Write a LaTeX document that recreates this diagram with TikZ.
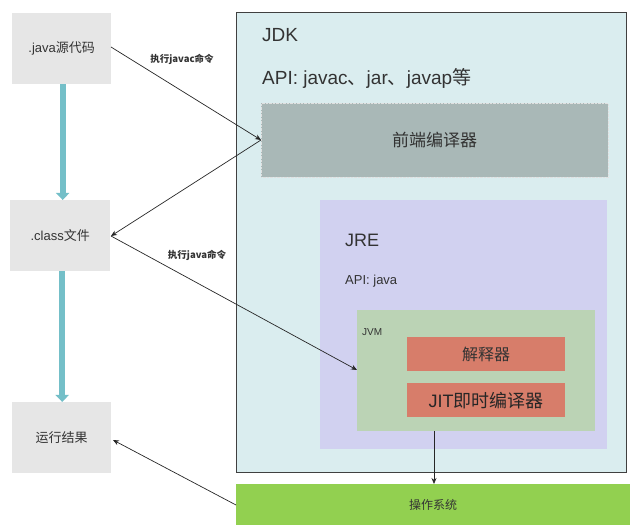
\documentclass[tikz,border=0pt]{standalone}
\usepackage{fontspec}
\setmainfont{Liberation Sans}
\newfontfamily\cjk{Noto Sans CJK SC}
\usetikzlibrary{arrows.meta,positioning}
\definecolor{grayfill}{HTML}{E6E6E6}
\definecolor{jdkfill}{HTML}{DAEDEF}
\definecolor{frontfill}{HTML}{A9B8B7}
\definecolor{jrefill}{HTML}{D1D1F0}
\definecolor{jvmfill}{HTML}{BBD3B5}
\definecolor{redfill}{HTML}{D77D6A}
\definecolor{osfill}{HTML}{92D050}
\definecolor{teal}{HTML}{74BFC8}
\definecolor{txt}{HTML}{333333}
\tikzset{
  box/.style={draw=none, inner sep=0pt, anchor=north west},
  lbl/.style={inner sep=0pt, anchor=west, text=txt},
  conn/.style={draw=black!85, line width=0.7pt, -{Stealth[length=6pt,width=5pt]}},
  thick arrow/.style={draw=teal, line width=6pt, -{Triangle[length=7pt,width=13pt]}},
  smalllbl/.style={inner sep=0pt, font=\cjk\bfseries\fontsize{9.5}{10}\selectfont, text=txt}
}
\begin{document}
\begin{tikzpicture}[x=1pt,y=-1pt]
\useasboundingbox (0,0) rectangle (641,529);
% left boxes
\node[box, fill=grayfill, minimum width=99pt, minimum height=71pt] (java) at (12,13) {};
\node[font=\fontsize{13}{15}\selectfont, text=txt] at (java.center) {.java{\cjk 源代码}};
\node[box, fill=grayfill, minimum width=100pt, minimum height=71pt] (cls) at (10,200) {};
\node[font=\fontsize{13}{15}\selectfont, text=txt] at (cls.center) {.class{\cjk 文件}};
\node[box, fill=grayfill, minimum width=99pt, minimum height=71pt] (res) at (12,402) {};
\node[font=\cjk\fontsize{13}{15}\selectfont, text=txt] at (res.center) {运行结果};
% JDK
\node[box, fill=jdkfill, draw=black!75, line width=0.8pt, minimum width=390pt, minimum height=460pt] (jdk) at (236,12) {};
\node[lbl, font=\fontsize{19}{21}\selectfont] (jdkl) at (262,35) {JDK};
\node[lbl, font=\fontsize{19}{21}\selectfont] (api) at (262,78) {API: javac{\cjk 、}jar{\cjk 、}javap{\cjk 等}};
\node[box, fill=frontfill, draw=black!12, densely dotted, line width=0.4pt, minimum width=347pt, minimum height=74pt] (front) at (261,103) {};
\node[font=\cjk\fontsize{17}{19}\selectfont, text=txt] at (front.center) {前端编译器};
% JRE
\node[box, fill=jrefill, minimum width=287pt, minimum height=249pt] (jre) at (320,200) {};
\node[lbl, font=\fontsize{18}{20}\selectfont] (jrel) at (345,240) {JRE};
\node[lbl, font=\fontsize{13}{15}\selectfont] (apij) at (345,281) {API: java};
% JVM
\node[box, fill=jvmfill, minimum width=238pt, minimum height=121pt] (jvm) at (357,310) {};
\node[lbl, font=\fontsize{10}{12}\selectfont] (jvml) at (362,332) {JVM};
\node[box, fill=redfill, minimum width=158pt, minimum height=34pt] (interp) at (407,337) {};
\node[font=\cjk\fontsize{16}{18}\selectfont, text=txt] at (interp.center) {解释器};
\node[box, fill=redfill, minimum width=158pt, minimum height=34pt] (jit) at (407,383) {};
\node[font=\fontsize{18}{20}\selectfont, text=black!85] at (jit.center) {JIT{\cjk 即时编译器}};
% OS
\node[box, fill=osfill, minimum width=394pt, minimum height=41pt] (os) at (236,484) {};
\node[font=\cjk\fontsize{12}{14}\selectfont, text=txt] at (os.center) {操作系统};
% thick arrows
\draw[thick arrow] (java.south) ++(1,0) coordinate (j1) -- (j1 |- cls.north);
\draw[thick arrow] (cls.south) ++(2,0) coordinate (c1) -- (c1 |- res.north);
% connectors
\coordinate (jv) at (111,47);
\coordinate (fr) at (261,140);
\coordinate (cl) at (111,236);
\coordinate (jm) at (357,370);
\coordinate (ol) at (236,505);
\coordinate (rr) at (113,440);
\coordinate (jb) at (434,431);
\draw[conn] (jv) -- (fr);
\draw[conn] (fr) -- (cl);
\draw[conn] (cl) -- (jm);
\draw[conn] (ol) -- (rr);
\draw[conn] (jb) -- (jb |- os.north);
\node[smalllbl] (l1) at (182,59) {执行javac命令};
\node[smalllbl] (l2) at (197,255) {执行java命令};
\end{tikzpicture}
\end{document}
